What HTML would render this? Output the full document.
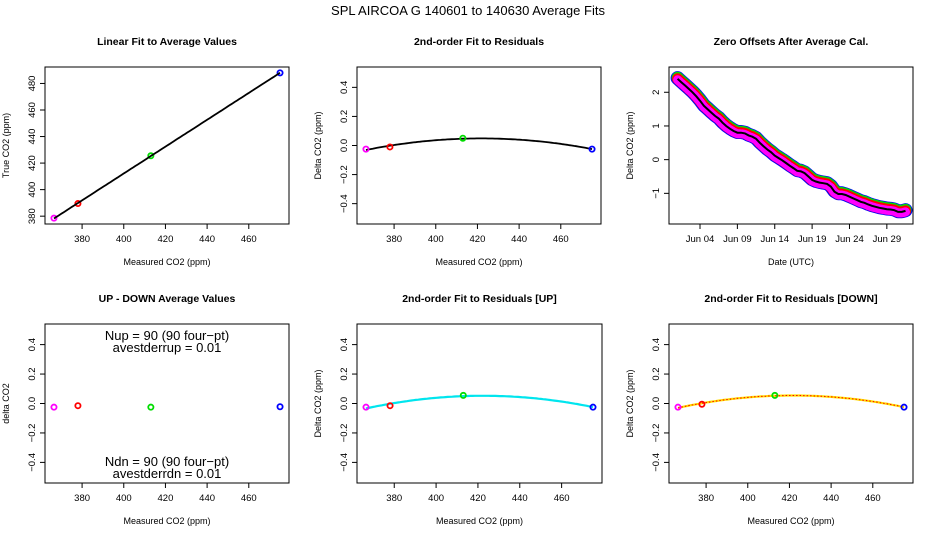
<!DOCTYPE html>
<html><head><meta charset="utf-8"><style>
body{margin:0;background:#fff;}
svg{display:block;font-family:"Liberation Sans",Arial,sans-serif;}
</style></head><body>
<svg id="c" width="936" height="540" viewBox="0 0 936 540">
<text x="468" y="15" text-anchor="middle" font-size="13">SPL   AIRCOA G   140601 to 140630   Average Fits</text>
</svg>
<script>
const measured=[366.5,378,413,475];
const trueCO2=[378.5,389.5,425.5,488];
const pointColors=['#ff00ff','#ff0000','#00dd00','#0000ff'];
const resid=[-0.025,-0.01,0.05,-0.025];
const residUp=[-0.025,-0.015,0.055,-0.025];
const residDn=[-0.025,-0.005,0.055,-0.025];
const upDownDiff=[-0.025,-0.015,-0.025,-0.022];
const xTicks=[380,400,420,440,460];
const yTicksTrue=[380,400,420,440,460,480];
const yTicksDelta=[-0.4,-0.2,0,0.2,0.4];
const yTickLabelsDelta=['\u22120.4','\u22120.2','0.0','0.2','0.4'];
const zeroStartDay=1;
const zeroStepDay=0.5;
const zeroMean=[2.4,2.3,2.2,2.1,2.0,1.88,1.75,1.6,1.5,1.4,1.3,1.22,1.1,1.0,0.92,0.85,0.8,0.8,0.78,0.72,0.68,0.62,0.5,0.4,0.3,0.22,0.12,0.05,-0.02,-0.1,-0.18,-0.25,-0.33,-0.35,-0.4,-0.5,-0.6,-0.65,-0.68,-0.7,-0.72,-0.8,-0.95,-1.02,-1.02,-1.05,-1.1,-1.15,-1.2,-1.25,-1.28,-1.33,-1.37,-1.4,-1.43,-1.45,-1.47,-1.48,-1.5,-1.55,-1.55,-1.52];
const zeroSeriesColors=['#0000ff','#00dd00','#ff0000','#ff00ff'];
const zeroSeriesOffsets=[0.02,0.03,0.0,-0.03];
const dateTicks=[4,9,14,19,24,29];
const dateTickLabels=['Jun 04','Jun 09','Jun 14','Jun 19','Jun 24','Jun 29'];
const zeroYTicks=[-1,0,1,2];
const zeroYTickLabels=['\u22121','0','1','2'];

const svg=document.getElementById('c');
const NS='http://www.w3.org/2000/svg';
function mk(tag,attrs,parent){const e=document.createElementNS(NS,tag);for(const k in attrs)e.setAttribute(k,attrs[k]);(parent||svg).appendChild(e);return e;}
function lin(d0,d1,r0,r1){return v=>r0+(v-d0)/(d1-d0)*(r1-r0);}

function panel(o){
  const g=mk('g',{});
  
  
  const {L,R,T,B}=o;
  const t=mk('text',{x:(L+R)/2,y:T-22,'text-anchor':'middle','font-size':10.5,'font-weight':'bold'},g);t.textContent=o.title;
  
  const box=mk('rect',{x:L,y:T,width:R-L,height:B-T,fill:'none',stroke:'#000','stroke-width':1},g);
  
  const xs=lin(o.xd[0],o.xd[1],L,R), ys=lin(o.yd[0],o.yd[1],B,T);
  const xa=mk('g',{},g);
  mk('line',{x1:xs(o.xt[0]),x2:xs(o.xt[o.xt.length-1]),y1:B,y2:B,stroke:'#000'},xa);
  o.xt.forEach((v,i)=>{const x=xs(v);mk('line',{x1:x,x2:x,y1:B,y2:B+5,stroke:'#000'},xa);
    const tl=mk('text',{x:x,y:B+18,'text-anchor':'middle','font-size':9.5},xa);tl.textContent=o.xl?o.xl[i]:v;
    });
  const xt=mk('text',{x:(L+R)/2,y:B+41,'text-anchor':'middle','font-size':9},g);xt.textContent=o.xlab;
  
  const ya=mk('g',{},g);
  mk('line',{x1:L,x2:L,y1:ys(o.yt[0]),y2:ys(o.yt[o.yt.length-1]),stroke:'#000'},ya);
  o.yt.forEach((v,i)=>{const y=ys(v);mk('line',{x1:L-5,x2:L,y1:y,y2:y,stroke:'#000'},ya);
    const tl=mk('text',{x:L-10,y:y,'text-anchor':'middle','font-size':9.5,transform:`rotate(-90 ${L-10} ${y})`},ya);tl.textContent=o.yl?o.yl[i]:v;
    });
  const yt=mk('text',{x:L-36,y:(T+B)/2,'text-anchor':'middle','font-size':9,transform:`rotate(-90 ${L-36} ${(T+B)/2})`},g);yt.textContent=o.ylab;
  
  return {g,xs,ys};
}
function pts(p,xv,yv){xv.forEach((x,i)=>{const c=mk('circle',{cx:p.xs(x),cy:p.ys(yv[i]),r:2.6,fill:'none',stroke:pointColors[i],'stroke-width':1.8},p.g);
  });}
function quadFit(xv,yv){
  const n=xv.length;const m=xv.reduce((a,b)=>a+b,0)/n;
  let S=[[0,0,0],[0,0,0],[0,0,0]],b=[0,0,0];
  xv.forEach((x,i)=>{const u=x-m;const r=[1,u,u*u];for(let a=0;a<3;a++){b[a]+=r[a]*yv[i];for(let c=0;c<3;c++)S[a][c]+=r[a]*r[c];}});
  for(let i=0;i<3;i++){for(let k=i+1;k<3;k++){const f=S[k][i]/S[i][i];for(let c=i;c<3;c++)S[k][c]-=f*S[i][c];b[k]-=f*b[i];}}
  const z=[0,0,0];for(let i=2;i>=0;i--){let s=b[i];for(let c=i+1;c<3;c++)s-=S[i][c]*z[c];z[i]=s/S[i][i];}
  return x=>{const u=x-m;return z[0]+z[1]*u+z[2]*u*u;};
}
function curve(p,f,color,w,dash,name){
  const x0=Math.min(...measured),x1=Math.max(...measured);let d='';
  for(let i=0;i<=100;i++){const x=x0+(x1-x0)*i/100;d+=(i?'L':'M')+p.xs(x).toFixed(1)+','+p.ys(f(x)).toFixed(1);}
  const e=mk('path',{d:d,fill:'none',stroke:color,'stroke-width':w},p.g);if(dash)e.setAttribute('stroke-dasharray',dash);
  return e;
}
const XD=[362.2,479.3], YD=[-0.54,0.54];

const p1=panel({name:'linear-fit-panel',L:45,R:289,T:67,B:224,xd:XD,yd:[374.1,492.4],xt:xTicks,yt:yTicksTrue,title:'Linear Fit to Average Values',xlab:'Measured CO2 (ppm)',ylab:'True CO2 (ppm)'});
pts(p1,measured,trueCO2);
(function(){const n=measured.length,mx=measured.reduce((a,b)=>a+b)/n,my=trueCO2.reduce((a,b)=>a+b)/n;let sxy=0,sxx=0;measured.forEach((x,i)=>{sxy+=(x-mx)*(trueCO2[i]-my);sxx+=(x-mx)**2;});const s=sxy/sxx;curve(p1,x=>my+s*(x-mx),'#000',1.8,null,'linear-fit-line');})();

const p2=panel({name:'residual-fit-panel',L:357,R:601,T:67,B:224,xd:XD,yd:YD,xt:xTicks,yt:yTicksDelta,yl:yTickLabelsDelta,title:'2nd-order Fit to Residuals',xlab:'Measured CO2 (ppm)',ylab:'Delta CO2 (ppm)'});
curve(p2,quadFit(measured,resid),'#000',1.8,null,'quadratic-fit-line');
pts(p2,measured,resid);

const p3=panel({name:'zero-offsets-panel',L:669,R:913,T:67,B:224,xd:[-0.15,32.5],yd:[-1.91,2.75],xt:dateTicks,xl:dateTickLabels,yt:zeroYTicks,yl:zeroYTickLabels,title:'Zero Offsets After Average Cal.',xlab:'Date (UTC)',ylab:'Delta CO2 (ppm)'});
const zeroWidths=[14,12,11,9];
zeroSeriesColors.forEach((col,k)=>{let d='';zeroMean.forEach((v,i)=>{const day=zeroStartDay+i*zeroStepDay;d+=(i?'L':'M')+p3.xs(day).toFixed(1)+','+p3.ys(v+zeroSeriesOffsets[k]).toFixed(1);});
  const e=mk('path',{d:d,fill:'none',stroke:col,'stroke-width':zeroWidths[k],'stroke-linejoin':'round','stroke-linecap':'round'},p3.g);
  if(k==3)e.setAttribute('stroke-dasharray','3 1.5');
  });
(function(){let d='';zeroMean.forEach((v,i)=>{const day=zeroStartDay+i*zeroStepDay;d+=(i?'L':'M')+p3.xs(day).toFixed(1)+','+p3.ys(v).toFixed(1);});
  const e=mk('path',{d:d,fill:'none',stroke:'#000','stroke-width':2},p3.g);})();

const p4=panel({name:'up-down-panel',L:45,R:289,T:324,B:483,xd:XD,yd:YD,xt:xTicks,yt:yTicksDelta,yl:yTickLabelsDelta,title:'UP - DOWN Average Values',xlab:'Measured CO2 (ppm)',ylab:'delta CO2'});
pts(p4,measured,upDownDiff);
[['Nup = 90 (90 four\u2212pt)',340],['avestderrup =  0.01',352],['Ndn = 90 (90 four\u2212pt)',466],['avestderrdn =  0.01',478]].forEach(a=>{const t=mk('text',{x:167,y:a[1],'text-anchor':'middle','font-size':13},p4.g);t.textContent=a[0];});

const p5=panel({name:'residual-up-panel',L:357,R:602,T:324,B:483,xd:XD,yd:YD,xt:xTicks,yt:yTicksDelta,yl:yTickLabelsDelta,title:'2nd-order Fit to Residuals [UP]',xlab:'Measured CO2 (ppm)',ylab:'Delta CO2 (ppm)'});
curve(p5,quadFit(measured,residUp),'#00e5ee',2.2,null,'quadratic-fit-up-line');
pts(p5,measured,residUp);

const p6=panel({name:'residual-down-panel',L:669,R:913,T:324,B:483,xd:XD,yd:YD,xt:xTicks,yt:yTicksDelta,yl:yTickLabelsDelta,title:'2nd-order Fit to Residuals [DOWN]',xlab:'Measured CO2 (ppm)',ylab:'Delta CO2 (ppm)'});
const fDn=quadFit(measured,residDn);
curve(p6,fDn,'#ffdd00',2.2,null,'quadratic-fit-down-line');
curve(p6,fDn,'#ff0000',1,'1.5 2','quadratic-fit-down-dots');
pts(p6,measured,residDn);
</script>
</body></html>
